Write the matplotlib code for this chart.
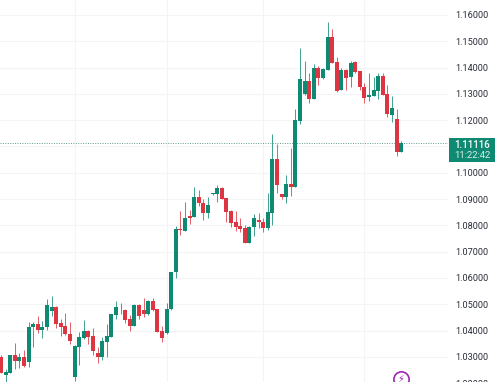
import matplotlib
matplotlib.use('Agg')
import matplotlib.pyplot as plt
from matplotlib.patches import Rectangle

opens = [1.0298, 1.0231, 1.0239, 1.0307, 1.0284, 1.0298, 1.0281, 1.0412, 1.0426, 1.0403, 1.0412,
         1.0476, 1.0490, 1.0430, 1.0418, 1.0388, 1.0225, 1.0339, 1.0373, 1.0400, 1.0379, 1.0315,
         1.0300, 1.0357, 1.0376, 1.0458, 1.0481, 1.0478, 1.0443, 1.0418, 1.0498, 1.0478,
         1.0462, 1.0511, 1.0481, 1.0397, 1.0391, 1.0481, 1.0623, 1.0786, 1.0780, 1.0835,
         1.0831, 1.0909, 1.0886, 1.0846, 1.0918, 1.0918, 1.0943, 1.0903, 1.0855, 1.0813,
         1.0798, 1.0789, 1.0732, 1.0793, 1.0819, 1.0813, 1.0789, 1.0848, 1.1052, 1.0918,
         1.0909, 1.0956, 1.0945, 1.1198, 1.1300, 1.1349, 1.1279, 1.1397, 1.1362, 1.1391,
         1.1515, 1.1421, 1.1315, 1.1390, 1.1363, 1.1421, 1.1386, 1.1327, 1.1289, 1.1293,
         1.1312, 1.1368, 1.1300, 1.1220, 1.1203, 1.1080]
highs = [1.0308, 1.0253, 1.0307, 1.0353, 1.0314, 1.0325, 1.0433, 1.0433, 1.0456, 1.0435, 1.0519,
         1.0530, 1.0492, 1.0443, 1.0466, 1.0433, 1.0344, 1.0395, 1.0440, 1.0403, 1.0410, 1.0338,
         1.0376, 1.0426, 1.0462, 1.0511, 1.0506, 1.0481, 1.0458, 1.0501, 1.0502, 1.0524,
         1.0515, 1.0525, 1.0483, 1.0418, 1.0506, 1.0624, 1.0798, 1.0855, 1.0888, 1.0859,
         1.0947, 1.0935, 1.0899, 1.0909, 1.0923, 1.0954, 1.0945, 1.0903, 1.0859, 1.0856,
         1.0827, 1.0801, 1.0798, 1.0843, 1.0848, 1.0827, 1.0924, 1.1147, 1.1108, 1.0919,
         1.0992, 1.1093, 1.1241, 1.1473, 1.1425, 1.1378, 1.1412, 1.1406, 1.1397, 1.1572,
         1.1547, 1.1439, 1.1397, 1.1393, 1.1426, 1.1425, 1.1388, 1.1340, 1.1381, 1.1363,
         1.1381, 1.1378, 1.1334, 1.1292, 1.1241, 1.1121]
lows = [1.0240, 1.0205, 1.0239, 1.0253, 1.0258, 1.0263, 1.0263, 1.0338, 1.0392, 1.0372, 1.0401,
        1.0454, 1.0410, 1.0379, 1.0382, 1.0348, 1.0207, 1.0268, 1.0369, 1.0350, 1.0306, 1.0278,
        1.0288, 1.0300, 1.0376, 1.0443, 1.0462, 1.0430, 1.0397, 1.0418, 1.0445, 1.0452,
        1.0458, 1.0473, 1.0395, 1.0357, 1.0386, 1.0478, 1.0601, 1.0764, 1.0780, 1.0804,
        1.0831, 1.0874, 1.0821, 1.0829, 1.0916, 1.0890, 1.0899, 1.0814, 1.0795, 1.0780,
        1.0776, 1.0732, 1.0732, 1.0761, 1.0789, 1.0776, 1.0783, 1.0802, 1.0922, 1.0900,
        1.0886, 1.0912, 1.0945, 1.1186, 1.1296, 1.1266, 1.1279, 1.1334, 1.1355, 1.1391,
        1.1419, 1.1308, 1.1315, 1.1315, 1.1327, 1.1381, 1.1315, 1.1264, 1.1274, 1.1293,
        1.1279, 1.1295, 1.1213, 1.1194, 1.1065, 1.1080]
closes = [1.0240, 1.0244, 1.0307, 1.0283, 1.0298, 1.0265, 1.0414, 1.0424, 1.0401, 1.0414, 1.0496,
          1.0490, 1.0426, 1.0414, 1.0386, 1.0359, 1.0341, 1.0376, 1.0398, 1.0376, 1.0322, 1.0300,
          1.0359, 1.0379, 1.0462, 1.0490, 1.0483, 1.0440, 1.0418, 1.0498, 1.0455, 1.0462,
          1.0511, 1.0479, 1.0395, 1.0372, 1.0483, 1.0624, 1.0786, 1.0783, 1.0828, 1.0829,
          1.0909, 1.0884, 1.0848, 1.0877, 1.0922, 1.0943, 1.0902, 1.0852, 1.0810, 1.0795,
          1.0786, 1.0732, 1.0795, 1.0827, 1.0814, 1.0789, 1.0851, 1.1052, 1.0954, 1.0909,
          1.0956, 1.0945, 1.1201, 1.1357, 1.1349, 1.1279, 1.1397, 1.1362, 1.1395, 1.1515,
          1.1419, 1.1312, 1.1390, 1.1360, 1.1419, 1.1383, 1.1325, 1.1286, 1.1296, 1.1315,
          1.1368, 1.1297, 1.1224, 1.1246, 1.1080, 1.11116]

price_ticks = [1.02, 1.03, 1.04, 1.05, 1.06, 1.07, 1.08, 1.09, 1.10, 1.11,
               1.12, 1.13, 1.14, 1.15, 1.16]
price_labels = ['1.02000', '1.03000', '1.04000', '1.05000', '1.06000', '1.07000', '1.08000',
                '1.09000', '1.10000', '', '1.12000', '1.13000', '1.14000', '1.15000', '1.16000']
time_ticks = [16, 36, 57, 79]
last_price = '1.11116'
countdown = '11:22:42'

green = '#0f8a72'
red = '#dd3542'
grid = '#f3f4f6'

fig = plt.figure(figsize=(5.0, 3.82), dpi=100)
# axes run a bit below the figure so the 1.02000 label gets cut like in the screenshot
ax = fig.add_axes([0, -20 / 382, 448 / 500, 402 / 382])
ax.set_xlim(-0.217, 97.17)
ax.set_ylim(1.01285, 1.1657)

for i in range(len(opens)):
    c = green if closes[i] >= opens[i] else red
    ax.vlines(i, lows[i], highs[i], color=c, linewidth=0.7, alpha=0.8, zorder=3)
    ax.bar(i, abs(closes[i] - opens[i]), bottom=min(opens[i], closes[i]), width=0.86,
           color=c, linewidth=0, zorder=4)

ax.axhline(closes[-1], color='#5f9a8e', linewidth=0.7, linestyle=(0, (1, 1.5)), zorder=2)

ax.set_xticks(time_ticks)
ax.set_xticklabels([])
ax.set_yticks(price_ticks)
ax.set_yticklabels(price_labels, fontsize=6.6, family='Roboto', color='#2a2e39')
ax.yaxis.tick_right()
ax.tick_params(axis='both', length=0)
ax.tick_params(axis='y', pad=5.2)
ax.grid(True, color=grid, linewidth=0.8)
ax.set_axisbelow(True)
for s in ax.spines.values():
    s.set_visible(False)

# lightning badge at the bottom
ax.plot(86.96, 1.0215, 'o', markersize=11, markerfacecolor='white',
        markeredgecolor='#9c27b0', markeredgewidth=1.2, zorder=6)
ax.text(86.96, 1.0215, '\u26a1', color='#9c27b0', fontsize=7, ha='center', va='center',
        family='DejaVu Sans', zorder=7)

# last price box
fig.add_artist(Rectangle((449 / 500, 1 - 162 / 382), 46 / 500, 24 / 382,
                         transform=fig.transFigure, color=green, linewidth=0))
fig.text(472 / 500, 1 - 144.5 / 382, last_price, color='white', fontsize=7, family='Roboto',
         weight='medium', ha='center', va='center')
fig.text(472 / 500, 1 - 155 / 382, countdown, color='#d8efe9', fontsize=6.8, family='Roboto',
         ha='center', va='center')

fig.savefig('out.png', dpi=100)
